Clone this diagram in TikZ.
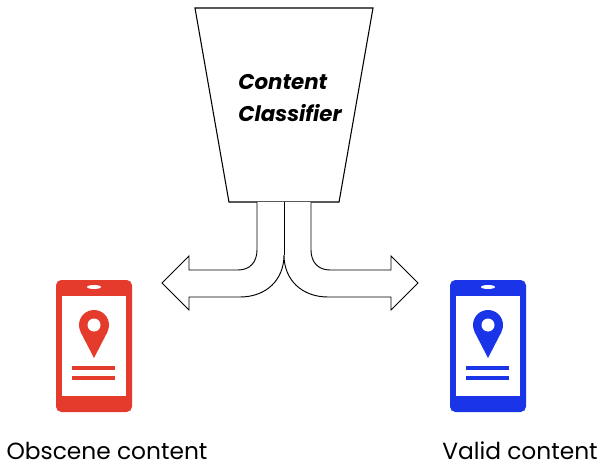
\documentclass[tikz,border=0pt]{standalone}
\usepackage{fontspec}
\setmainfont{Poppins}
\usetikzlibrary{shapes.geometric}

\definecolor{phonered}{HTML}{E53B2C}
\definecolor{phoneblue}{HTML}{1A35E8}

\tikzset{
  pics/phone/.style={code={
    \fill[#1, rounded corners=4] (-38,-66) rectangle (38,66);
    \fill[white] (-32,-50) rectangle (32,50);
    \fill[white] (0,-59) ellipse [x radius=7, y radius=2];
    % location pin
    \fill[#1] (0,-21) circle [radius=15];
    \fill[#1] (-13.4,-14) -- (13.4,-14) -- (0,12) -- cycle;
    \fill[white] (0,-21) circle [radius=6.5];
    % text lines
    \fill[#1] (-22,20) rectangle (21,24);
    \fill[#1] (-22,30) rectangle (21,34);
  }}
}

\begin{document}
\begin{tikzpicture}[
    x=0.75pt, y=-0.75pt,
    classifier/.style={draw, fill=white, trapezium, shape border rotate=180, trapezium angle=71.5,
      trapezium stretches=true, minimum width=133.5pt, minimum height=145.5pt, inner sep=0pt, line width=0.8pt},
    title/.style={font=\fontsize{16}{24}\selectfont\bfseries\itshape, align=left},
    caption/.style={font=\fontsize{17.5}{21}\selectfont},
    fork/.style={draw, fill=white, line width=0.7pt, line join=miter}
  ]
  \useasboundingbox (0,0) rectangle (610,474);

  % classifier on top
  \node[classifier] (classifier) at (284,105) {\phantom{C}};
  \node[title] (classifiertext) at (290,98) {Content\\Classifier};

  % forked arrow below it
  \draw[fork] (257,202) -- (257,250) .. controls (257,262) and (250,270) .. (238,270)
    -- (189,270) -- (189,256) -- (162,283) -- (189,310) -- (189,297) -- (240,297)
    .. controls (266,297) and (284,280) .. (284,255)
    .. controls (284,280) and (302,297) .. (328,297)
    -- (391,297) -- (391,310) -- (418,283) -- (391,256) -- (391,270) -- (330,270)
    .. controls (318,270) and (311,262) .. (311,250) -- (311,202);
  \draw[fork] (284,202) -- (284,255);

  % the two phones
  \pic (obscene) at (94,346) {phone=phonered};
  \pic (valid) at (488,346) {phone=phoneblue};

  \node[caption] (obscenetext) at (107,451) {Obscene content};
  \node[caption] (validtext) at (520,451) {Valid content};
\end{tikzpicture}
\end{document}
